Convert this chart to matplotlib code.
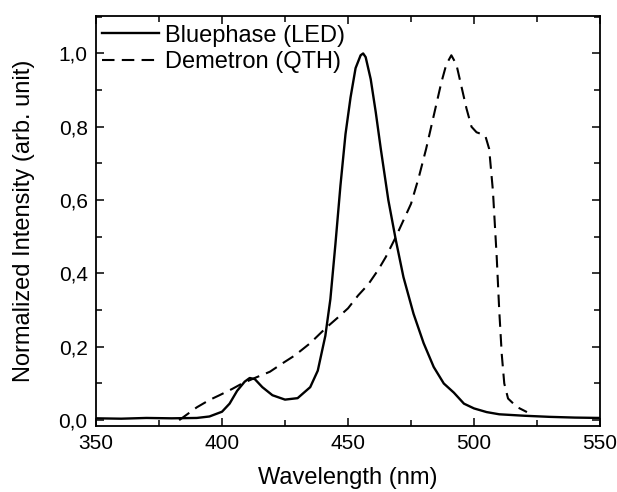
import matplotlib
matplotlib.use("Agg")
import matplotlib.pyplot as plt
from matplotlib.ticker import MultipleLocator, FuncFormatter

plt.rcParams['font.family'] = ['Liberation Sans', 'DejaVu Sans']

# Bluephase (LED) espectro
wl_led = [350, 360, 370, 380, 390, 395, 400, 403, 406, 409, 411, 413, 416, 420,
          425, 430, 435, 438, 441, 443, 445, 447, 449, 451, 453, 455, 456, 457,
          459, 461, 463, 466, 469, 472, 476, 480, 484, 488, 492, 496, 500, 505,
          510, 520, 530, 540, 550]
int_led = [0.005, 0.004, 0.006, 0.005, 0.006, 0.010, 0.023, 0.045, 0.080, 0.105,
           0.115, 0.112, 0.090, 0.068, 0.056, 0.060, 0.090, 0.135, 0.230, 0.330,
           0.480, 0.640, 0.780, 0.880, 0.960, 0.995, 1.000, 0.990, 0.930, 0.840,
           0.740, 0.600, 0.490, 0.390, 0.290, 0.210, 0.145, 0.100, 0.075, 0.045,
           0.032, 0.022, 0.016, 0.012, 0.009, 0.007, 0.006]

# Demetron (QTH) espectro
wl_qth = [383, 390, 395, 399, 404, 408, 413, 419, 424, 429, 435, 441, 446, 450,
          454, 458, 462, 465, 469, 472, 475, 478, 481, 484, 487, 489, 491, 493,
          495, 497, 499, 501, 503, 504.5, 506, 507.5, 509, 510, 511, 512, 513.5,
          517, 521]
int_qth = [0.0, 0.035, 0.055, 0.068, 0.085, 0.100, 0.115, 0.132, 0.155, 0.177,
           0.210, 0.250, 0.280, 0.305, 0.340, 0.370, 0.410, 0.445, 0.500, 0.545,
           0.590, 0.660, 0.740, 0.830, 0.920, 0.970, 0.995, 0.970, 0.910, 0.850,
           0.800, 0.785, 0.780, 0.775, 0.740, 0.625, 0.445, 0.300, 0.180, 0.100,
           0.059, 0.036, 0.022]

fig = plt.figure(figsize=(6.17, 4.92), dpi=100)
ax = fig.add_axes([0.1556, 0.1341, 0.8169, 0.8333])

ax.plot(wl_led, int_led, color="black", lw=1.7, label="Bluephase (LED)")
ax.plot(wl_qth, int_qth, color="black", lw=1.5, ls=(0, (6, 3.5)), label="Demetron (QTH)")

ax.set_xlim(350, 550)
ax.set_ylim(-0.016, 1.102)
ax.xaxis.set_major_locator(MultipleLocator(50))
ax.xaxis.set_minor_locator(MultipleLocator(25))
ax.yaxis.set_major_locator(MultipleLocator(0.2))
ax.yaxis.set_minor_locator(MultipleLocator(0.1))
ax.yaxis.set_major_formatter(FuncFormatter(lambda v, p: f"{v:.1f}".replace(".", ",")))

# ticks hacia adentro en los cuatro lados
ax.tick_params(which="both", direction="in", top=True, right=True, width=1.1)
ax.tick_params(which="major", length=6, labelsize=15, pad=6)
ax.tick_params(which="minor", length=4)

for s in ax.spines.values():
    s.set_linewidth(1.3)

ax.set_xlabel("Wavelength (nm)", fontsize=17, labelpad=10)
ax.set_ylabel("Normalized Intensity (arb. unit)", fontsize=17, labelpad=17)

ax.legend(loc="upper left", bbox_to_anchor=(0.008, 0.985), frameon=False,
          fontsize=17, handlelength=2.4, handletextpad=0.25, borderaxespad=0,
          borderpad=0.1, labelspacing=0.2)

fig.savefig("out.png", dpi=100)
